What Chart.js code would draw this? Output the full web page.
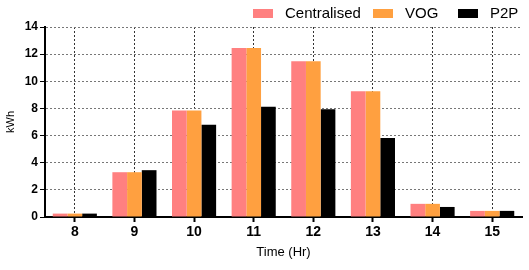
<!DOCTYPE html>
<html>
<head>
<meta charset="utf-8">
<script src="https://cdn.jsdelivr.net/npm/chart.js@4"></script>
<style>
html,body{margin:0;padding:0;background:#fff;}
#wrap{width:529px;height:270px;position:relative;}
</style>
</head>
<body>
<div id="wrap"><canvas id="c" width="529" height="270"></canvas></div>
<script>
const categories = ["8", "9", "10", "11", "12", "13", "14", "15"];
const centralised = [0.25, 3.3, 7.85, 12.45, 11.47, 9.27, 0.97, 0.45];
const vog = [0.25, 3.3, 7.85, 12.45, 11.47, 9.27, 0.97, 0.45];
const p2p = [0.25, 3.45, 6.8, 8.12, 7.94, 5.83, 0.74, 0.45];
const yTicks = [0, 2, 4, 6, 8, 10, 12, 14];

const FONT = "'Liberation Sans', Arial, sans-serif";

// Custom legend: fixed columns measured from the right edge of the canvas
const legendPlugin = {
  id: 'fixedLegend',
  afterDraw(chart) {
    const ctx = chart.ctx;
    const offsets = [276, 156, 71]; // box left = width - offset
    ctx.save();
    ctx.font = "15px " + FONT;
    ctx.textBaseline = 'middle';
    ctx.textAlign = 'left';
    chart.data.datasets.forEach((ds, i) => {
      const x = chart.width - offsets[i];
      ctx.fillStyle = ds.backgroundColor;
      ctx.fillRect(x, 9, 20, 9);
      ctx.fillStyle = '#000';
      ctx.fillText(ds.label, x + 32, 14);
    });
    ctx.restore();
  }
};

new Chart(document.getElementById('c'), {
  type: 'bar',
  data: {
    labels: categories,
    datasets: [
      {label: 'Centralised', data: centralised, backgroundColor: '#FF8080'},
      {label: 'VOG', data: vog, backgroundColor: '#FFA040'},
      {label: 'P2P', data: p2p, backgroundColor: '#000000'}
    ]
  },
  plugins: [legendPlugin],
  options: {
    responsive: false,
    animation: false,
    devicePixelRatio: 1,
    categoryPercentage: 0.74,
    barPercentage: 1.0,
    layout: {padding: {left: 0, right: 7, top: 27, bottom: 0}},
    plugins: {
      tooltip: {enabled: false},
      legend: {display: false}
    },
    scales: {
      x: {
        offset: true,
        grid: {
          offset: false,
          color: '#333',
          lineWidth: 1,
          drawTicks: true,
          tickLength: 5,
          tickColor: '#000',
          tickWidth: 2,
          tickBorderDash: []
        },
        border: {display: true, color: '#000', width: 2, dash: [2, 2]},
        ticks: {
          color: '#000',
          padding: 2,
          font: {family: FONT, size: 14, weight: 'bold'}
        },
        title: {
          display: true,
          text: 'Time (Hr)',
          color: '#000',
          font: {family: FONT, size: 13},
          padding: {top: 4, bottom: 10}
        },
        afterFit: (s) => { s.height = 53; }
      },
      y: {
        min: 0,
        max: 14,
        afterBuildTicks: (s) => { s.ticks = yTicks.map(v => ({value: v})); },
        grid: {
          color: '#777',
          lineWidth: 1,
          tickLength: 5,
          tickColor: '#000',
          tickWidth: 1,
          tickBorderDash: []
        },
        border: {display: true, color: '#000', width: 2, dash: [2, 2]},
        ticks: {
          color: '#000',
          padding: 2,
          font: {family: FONT, size: 12, weight: 'bold'}
        },
        title: {
          display: true,
          text: 'kWh',
          color: '#000',
          font: {family: FONT, size: 11},
          padding: {top: 4, bottom: 0}
        },
        afterFit: (s) => { s.width = 45; }
      }
    }
  }
});
</script>
</body>
</html>
